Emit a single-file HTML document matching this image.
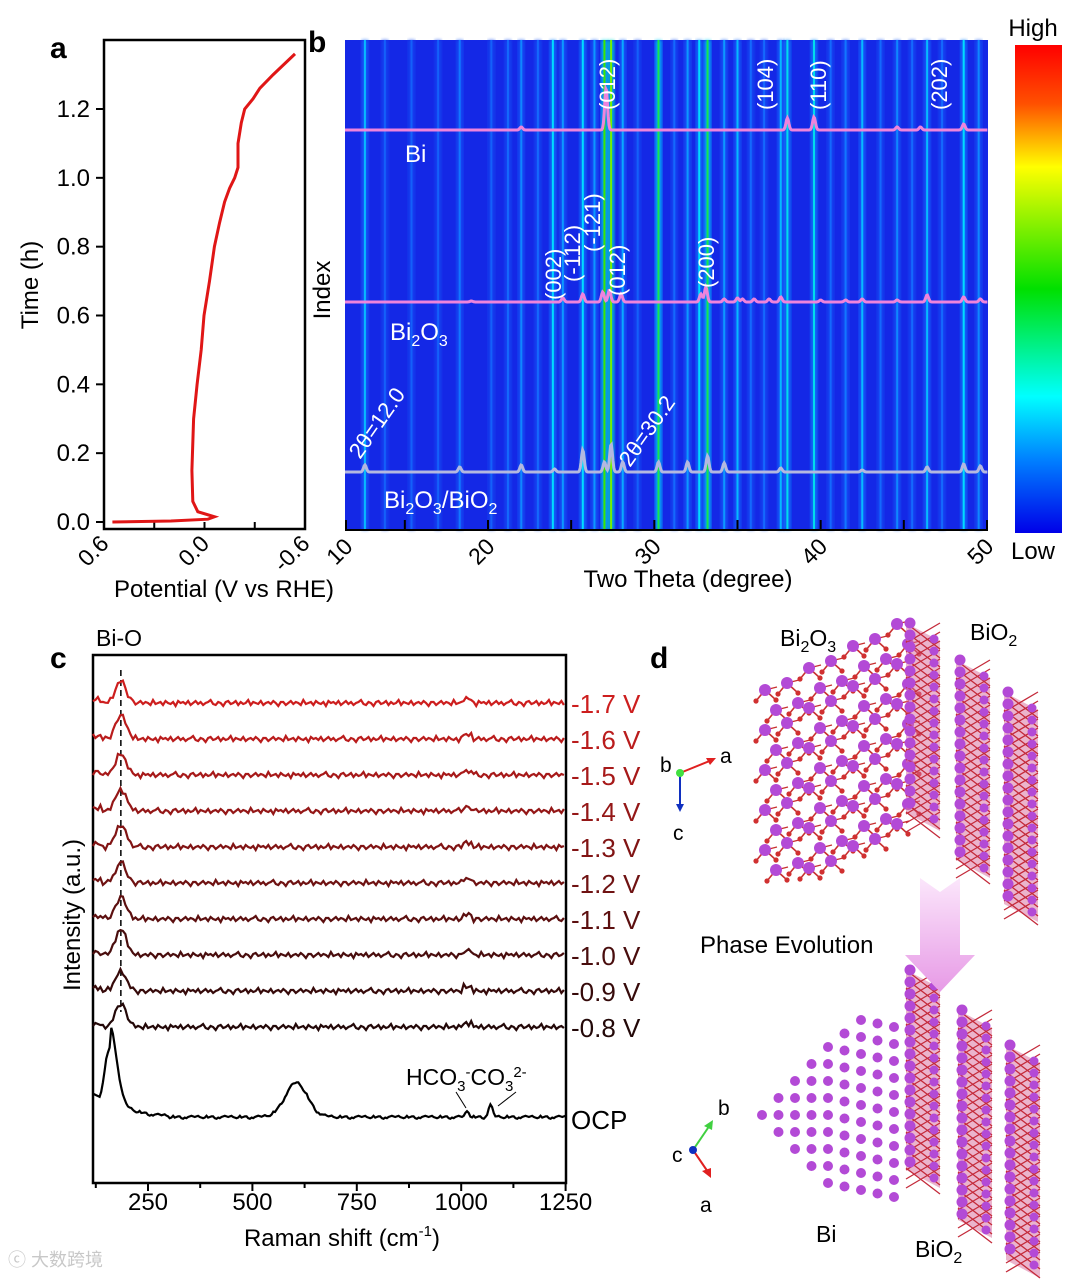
<!DOCTYPE html>
<html><head><meta charset="utf-8">
<style>
html,body{margin:0;padding:0;background:#fff;}
svg{display:block;font-family:"Liberation Sans","Noto Sans CJK SC",sans-serif;}
</style></head>
<body>
<svg id="fig" xmlns="http://www.w3.org/2000/svg" width="1080" height="1279" viewBox="0 0 1080 1279">
<defs>
<linearGradient id="cbar" x1="0" y1="0" x2="0" y2="1">
<stop offset="0" stop-color="#ff0000"/><stop offset="0.12" stop-color="#ff5000"/><stop offset="0.25" stop-color="#ffff00"/>
<stop offset="0.5" stop-color="#00e000"/><stop offset="0.72" stop-color="#00ffff"/><stop offset="0.85" stop-color="#0080ff"/><stop offset="1" stop-color="#0000e8"/>
</linearGradient>
<linearGradient id="arrowg" x1="0" y1="0" x2="0" y2="1">
<stop offset="0" stop-color="#fbe6fb"/><stop offset="1" stop-color="#e79ae6"/>
</linearGradient>
<filter id="blur1"><feGaussianBlur stdDeviation="1.5"/></filter>
</defs>

<g>
<text x="50" y="58" font-size="30" font-weight="bold">a</text>
<rect x="104" y="40" width="201" height="489" fill="none" stroke="#000" stroke-width="2.5"/>
<g id="aTicks"></g>
<g id="aXTicks"></g>
<path id="aCurve" fill="none" stroke="#e01616" stroke-width="3"/>
<text x="0" y="0" transform="translate(38,285) rotate(-90)" text-anchor="middle" font-size="24">Time (h)</text>
<text x="224" y="597" text-anchor="middle" font-size="24">Potential (V vs RHE)</text>
</g>

<g>
<text x="308" y="52" font-size="30" font-weight="bold">b</text>
<rect x="345" y="40" width="643" height="490" fill="#1428e6"/>
<g id="hmLines"></g>
<g id="xrdPatterns"></g>
<g id="bXTicks"></g>
<line x1="345" y1="530" x2="988" y2="530" stroke="#000" stroke-width="2"/>
<text transform="translate(330,290) rotate(-90)" text-anchor="middle" font-size="24">Index</text>
<text x="688" y="587" text-anchor="middle" font-size="24">Two Theta (degree)</text>
<g fill="#fff" font-size="22">
<text transform="translate(615,110) rotate(-90)">(012)</text>
<text transform="translate(773,110) rotate(-90)">(104)</text>
<text transform="translate(826,110) rotate(-90)">(110)</text>
<text transform="translate(947,110) rotate(-90)">(202)</text>
<text transform="translate(561,300) rotate(-90)">(002)</text>
<text transform="translate(580,282) rotate(-90)">(-112)</text>
<text transform="translate(600,252) rotate(-90)">(-121)</text>
<text transform="translate(625,296) rotate(-90)">(012)</text>
<text transform="translate(714,288) rotate(-90)">(200)</text>
<text transform="translate(360,460) rotate(-55)">2θ=12.0</text>
<text transform="translate(630,468) rotate(-55)">2θ=30.2</text>
</g>
<g fill="#fff" font-size="24">
<text x="405" y="162">Bi</text>
<text x="390" y="340">Bi<tspan font-size="16" dy="6">2</tspan><tspan dy="-6">O</tspan><tspan font-size="16" dy="6">3</tspan></text>
<text x="384" y="508">Bi<tspan font-size="16" dy="6">2</tspan><tspan dy="-6">O</tspan><tspan font-size="16" dy="6">3</tspan><tspan dy="-6">/BiO</tspan><tspan font-size="16" dy="6">2</tspan></text>
</g>
<rect x="1015" y="45" width="47" height="488" fill="url(#cbar)"/>
<text x="1033" y="36" text-anchor="middle" font-size="24">High</text>
<text x="1033" y="559" text-anchor="middle" font-size="24">Low</text>
</g>

<g>
<text x="50" y="668" font-size="30" font-weight="bold">c</text>
<text x="96" y="646" font-size="23">Bi-O</text>
<rect x="93" y="655" width="473" height="528" fill="none" stroke="#000" stroke-width="2.5"/>
<line id="biOLine" y1="670" y2="1012" stroke="#000" stroke-width="1.5" stroke-dasharray="6,4"/>
<g id="spectra"></g>
<g id="cXTicks"></g>
<text transform="translate(80,915) rotate(-90)" text-anchor="middle" font-size="24">Intensity (a.u.)</text>
<text x="342" y="1246" text-anchor="middle" font-size="24">Raman shift (cm<tspan font-size="15" dy="-10">-1</tspan><tspan dy="10">)</tspan></text>
<text x="406" y="1085" font-size="23">HCO<tspan font-size="15" dy="6">3</tspan><tspan font-size="15" dy="-14">-</tspan><tspan dy="8">CO</tspan><tspan font-size="15" dy="6">3</tspan><tspan font-size="15" dy="-14">2-</tspan></text>
<line x1="456" y1="1092" x2="466" y2="1108" stroke="#000" stroke-width="1"/>
<line x1="516" y1="1092" x2="498" y2="1106" stroke="#000" stroke-width="1"/>
</g>

<g>
<text x="650" y="668" font-size="30" font-weight="bold">d</text>
<g id="structures"></g>
<path d="M920,878 L940,892 L960,878 L960,955 L975,955 L940,992 L905,955 L920,955 Z" fill="url(#arrowg)"/>
<text x="700" y="953" font-size="24">Phase Evolution</text>
<text x="780" y="646" font-size="23">Bi<tspan font-size="16" dy="6">2</tspan><tspan dy="-6">O</tspan><tspan font-size="16" dy="6">3</tspan></text>
<text x="970" y="640" font-size="23">BiO<tspan font-size="16" dy="6">2</tspan></text>
<text x="816" y="1242" font-size="23">Bi</text>
<text x="915" y="1257" font-size="23">BiO<tspan font-size="16" dy="6">2</tspan></text>
<g>
<line x1="680" y1="773" x2="712" y2="760" stroke="#e02020" stroke-width="2"/><path d="M716,758 L706,758 L710,765 Z" fill="#e02020"/>
<line x1="680" y1="773" x2="680" y2="806" stroke="#1030c0" stroke-width="2"/><path d="M676,804 L684,804 L680,812 Z" fill="#1030c0"/>
<circle cx="680" cy="773" r="4" fill="#40e040"/>
<text x="660" y="772" font-size="21">b</text><text x="720" y="763" font-size="21">a</text><text x="673" y="840" font-size="21">c</text>
</g>
<g>
<line x1="693" y1="1150" x2="710" y2="1125" stroke="#40d040" stroke-width="2"/><path d="M713,1120 L704,1126 L712,1130 Z" fill="#40d040"/>
<line x1="693" y1="1150" x2="708" y2="1172" stroke="#e02020" stroke-width="2"/><path d="M711,1178 L702,1171 L711,1168 Z" fill="#e02020"/>
<circle cx="693" cy="1150" r="4" fill="#1030c0"/>
<text x="718" y="1115" font-size="21">b</text><text x="672" y="1162" font-size="21">c</text><text x="700" y="1212" font-size="21">a</text>
</g>
</g>
<text x="8" y="1266" font-size="18" fill="#c8c8c8">ⓒ 大数跨境</text>
</svg>

<script>
// ---------- Panel a data ----------
const aPotential = [0.55, 0.20, -0.02, -0.06, 0.04, 0.07, 0.075, 0.065, 0.044, 0.02, 0.003, -0.03, -0.059, -0.09, -0.12, -0.15, -0.18, -0.20, -0.20, -0.22, -0.24, -0.29, -0.33, -0.41, -0.54];
const aTime      = [0.00, 0.003, 0.008, 0.015, 0.03, 0.06, 0.15, 0.30, 0.40, 0.50, 0.60, 0.70, 0.80, 0.87, 0.93, 0.97, 1.00, 1.03, 1.10, 1.16, 1.20, 1.23, 1.26, 1.30, 1.36];
const aYTicks = ["0.0","0.2","0.4","0.6","0.8","1.0","1.2"];
const aXTicks = ["0.6","0.0","-0.6"];

// ---------- Panel b data ----------
const hmLinePos = [12.6,13.8,15.4,17.0,18.3,20.2,21.2,22.0,23.0,23.9,24.5,25.7,26.4,27.0,27.4,28.1,29.0,30.25,31.2,32.0,32.7,33.2,34.2,35.0,35.8,36.6,37.6,38.0,39.6,40.6,41.5,42.5,43.6,44.6,45.5,46.4,47.3,48.6,49.5];
const hmLineInt = [0.24,0.12,0.12,0.12,0.16,0.12,0.14,0.18,0.14,0.28,0.2,0.28,0.2,0.5,0.55,0.22,0.12,0.45,0.14,0.2,0.28,0.45,0.2,0.24,0.14,0.14,0.24,0.3,0.3,0.14,0.16,0.24,0.14,0.18,0.14,0.24,0.14,0.28,0.18];
const biPeakPos = [22.0, 27.1, 38.0, 39.6, 44.6, 46.0, 48.6];
const biPeakH   = [3, 42, 12, 13, 3, 3, 6];
const bi2o3PeakPos = [19.0, 24.5, 25.7, 26.9, 27.3, 28.0, 32.8, 33.1, 34.2, 35.0, 35.3, 36.0, 36.9, 37.6, 40.0, 41.5, 42.5, 44.6, 46.4, 48.6, 49.6];
const bi2o3PeakH   = [1, 4, 8, 10, 12, 8, 8, 15, 3, 4, 3, 3, 3, 5, 2, 2, 3, 2, 7, 5, 3];
const mixPeakPos = [12.6, 18.3, 22.0, 24.0, 25.7, 27.0, 27.4, 28.1, 30.25, 32.0, 33.2, 34.2, 37.6, 42.5, 46.4, 48.6, 49.6];
const mixPeakH   = [7, 5, 7, 3, 22, 10, 28, 10, 10, 10, 16, 9, 4, 2, 5, 8, 6];
const bXTicks = ["20","30","40","50"];

// ---------- Panel c data ----------
const voltLabels = ["-1.7 V","-1.6 V","-1.5 V","-1.4 V","-1.3 V","-1.2 V","-1.1 V","-1.0 V","-0.9 V","-0.8 V"];
const biOPeakH = [22, 24, 21, 22, 22, 20, 22, 26, 20, 24];
const wiggle = [0,2,-1,1,-2,0,1,3,-1,-2,1,0,-3,1,2,-1,0,2,-2,1,-1,0,3,-2,1,0,-1,2,-2,0,1,-1,2,0,-3,1,1,-2,0,2,-1,1,0,-2,3,-1,0,1,-2,2,0,-1,1,-3,2,0,1,-1,2,-2];
const ocpPeakPos = [160, 605, 1015, 1070];
const ocpPeakH   = [70, 34, 6, 12];
const ocpPeakW   = [22, 38, 6, 7];
const cXTicks = ["250","500","750","1000","1250"];

const NS = "http://www.w3.org/2000/svg";
function mk(tag, attrs, parent){ const e=document.createElementNS(NS,tag); for(const k in attrs) e.setAttribute(k,attrs[k]); parent.appendChild(e); return e; }

const xa = v => 104 + (0.6 - v) / 1.2 * 201;
const ya = t => 522 - t / 1.2 * 413;
(function(){
  let d = "";
  aPotential.forEach((v,i)=>{ d += (i?"L":"M") + xa(v).toFixed(1) + "," + ya(aTime[i]).toFixed(1); });
  document.getElementById("aCurve").setAttribute("d", d);
  const g = document.getElementById("aTicks");
  aYTicks.forEach(s=>{
    const y = ya(parseFloat(s));
    const l = mk("line",{x1:96,x2:104,y1:y,y2:y,stroke:"#000","stroke-width":2},g);
    
    
    const t = mk("text",{x:90,y:y+8,"text-anchor":"end","font-size":24},g);
    t.textContent = s;
    
    
  });
  const gx = document.getElementById("aXTicks");
  [0.6,0.3,0.0,-0.3,-0.6].forEach(v=>{
    const x = xa(v);
    const l = mk("line",{x1:x,x2:x,y1:529,y2:522,stroke:"#000","stroke-width":2},gx);
    
    
  });
  aXTicks.forEach(s=>{
    const x = xa(parseFloat(s));
    const t = mk("text",{transform:`translate(${x+6},${545}) rotate(-45)`,"text-anchor":"end","font-size":23},gx);
    t.textContent = s;
    
    
  });
})();

// Panel b: axis 20 deg at x=488, 50 deg at x=987
const xb = d => 488 + (d - 20) * 16.633;
function jet(v){
  const stops=[[0,[20,40,230]],[0.15,[20,110,255]],[0.28,[0,220,255]],[0.42,[0,230,120]],[0.5,[60,230,0]],[0.62,[200,255,0]],[0.75,[255,255,0]],[0.88,[255,80,0]],[1,[255,0,0]]];
  for(let i=1;i<stops.length;i++){ if(v<=stops[i][0]){ const a=stops[i-1],b=stops[i]; const f=(v-a[0])/(b[0]-a[0]); return `rgb(${a[1].map((c,j)=>Math.round(c+(b[1][j]-c)*f)).join(",")})`; } }
  return "rgb(255,0,0)";
}
(function(){
  const g = document.getElementById("hmLines");
  hmLinePos.forEach((p,i)=>{
    const x = xb(p), v = hmLineInt[i];
    if (x < 345 || x > 988) return;
    const glow = mk("rect",{x:x-3.5,y:40,width:7,height:490,fill:jet(v*0.6),opacity:0.7,filter:"url(#blur1)"},g);
    
    
    const r = mk("rect",{x:x-1,y:40,width:2,height:490,fill:jet(v)},g);
    
    
  });
  const gp = document.getElementById("xrdPatterns");
  function pattern(pos, h, base, color, name){
    let d="";
    for(let x=345;x<=988;x+=0.8){
      const t = 20 + (x-488)/16.633;
      let y=0; pos.forEach((p,i)=>{ y += h[i]*Math.exp(-Math.pow((t-p)/0.12,2)); });
      d += (d?"L":"M") + x.toFixed(1) + "," + (base - y).toFixed(1);
    }
    const path = mk("path",{d:d,fill:"none",stroke:color,"stroke-width":3},gp);
    
    
  }
  pattern(biPeakPos, biPeakH, 130, "#ee84dc", "xrd-bi-pattern");
  pattern(bi2o3PeakPos, bi2o3PeakH, 302, "#ee84dc", "xrd-bi2o3-pattern");
  pattern(mixPeakPos, mixPeakH, 472, "#b4b8e0", "xrd-bi2o3-bio2-pattern");
  const gx = document.getElementById("bXTicks");
  const l0 = mk("line",{x1:346,x2:346,y1:530,y2:520,stroke:"#000","stroke-width":2},gx);
  
  
  const t0 = mk("text",{transform:`translate(354,548) rotate(-45)`,"text-anchor":"end","font-size":23},gx);
  t0.textContent = "10";
  
  
  for(let d=15; d<=50; d+=5){
    const x = Math.min(xb(d), 987);
    const l = mk("line",{x1:x,x2:x,y1:530,y2:520,stroke:"#000","stroke-width":2},gx);
    
    
  }
  bXTicks.forEach(s=>{
    const x = xb(parseFloat(s));
    const t = mk("text",{transform:`translate(${x+8},${548}) rotate(-45)`,"text-anchor":"end","font-size":23},gx);
    t.textContent = s;
    
    
  });
})();

const xc = r => 148 + (r - 250) * 0.4176;
(function(){
  const g = document.getElementById("spectra");
  const biOx = xc(185);
  document.getElementById("biOLine").setAttribute("x1", biOx);
  document.getElementById("biOLine").setAttribute("x2", biOx);
  voltLabels.forEach((lab,i)=>{
    const base = 703 + i*36;
    const f = i/9;
    const col = `rgb(${Math.round(205-170*f)},${Math.round(30-22*f)},${Math.round(30-22*f)})`;
    let d="";
    for(let r=118; r<=1250; r+=6){
      const k = Math.round(r/6);
      let y = wiggle[(k + i*7) % wiggle.length]*1.0 + biOPeakH[i]*Math.exp(-Math.pow((r-185)/18,2));
      if(r<140) y += 3;
      if(r>1000 && r<1030) y += 4;
      d += (d?"L":"M") + xc(r).toFixed(1) + "," + (base - y).toFixed(1);
    }
    const p = mk("path",{d:d,fill:"none",stroke:col,"stroke-width":2.2},g);
    
    
    const t = mk("text",{x:571,y:base+10,"font-size":26,fill:col},g);
    t.textContent = lab;
    
    
  });
  let d="";
  const base = 1117;
  for(let r=118; r<=1250; r+=4){
    const k = Math.round(r/4);
    let y = wiggle[(k*3) % wiggle.length]*0.6;
    ocpPeakPos.forEach((p,j)=>{ y += ocpPeakH[j]*Math.exp(-Math.pow((r-p)/ocpPeakW[j],2)); });
    if(r < 160) y = Math.max(y, 15 + (160-r)*0.2);
    if(r >= 160 && r < 300) y += 20*Math.exp(-(r-160)/50);
    d += (d?"L":"M") + xc(r).toFixed(1) + "," + (base - y).toFixed(1);
  }
  const p = mk("path",{d:d,fill:"none",stroke:"#000","stroke-width":2.2},g);
  
  
  const t = mk("text",{x:571,y:base+12,"font-size":26},g);
  t.textContent = "OCP";
  
  
  const gx = document.getElementById("cXTicks");
  for(let r=125; r<=1250; r+=125){
    const x = xc(r);
    const major = (r % 250 === 0);
    const l = mk("line",{x1:x,x2:x,y1:1183,y2:major?1191:1188,stroke:"#000","stroke-width":2},gx);
    
    
  }
  cXTicks.forEach(s=>{
    const t = mk("text",{x:xc(parseFloat(s)),y:1210,"text-anchor":"middle","font-size":24},gx);
    t.textContent = s;
    
    
  });
})();

(function(){
  const g = document.getElementById("structures");
  const bg = mk("g",{},g);
  
  
  for(let r=0;r<11;r++){
    for(let c=0;c<7;c++){
      const x = 765 + c*22 + (r%2)*11;
      const top = 690 - c*11;
      const y = top + r*20 + (c%2)*4;
      if(y > 875 - c*2) continue;
      mk("line",{x1:x,y1:y,x2:x+11,y2:y+10,stroke:"#c83030","stroke-width":1.6},bg);
      mk("line",{x1:x,y1:y,x2:x-9,y2:y+11,stroke:"#c83030","stroke-width":1.6},bg);
      mk("line",{x1:x,y1:y,x2:x+12,y2:y-3,stroke:"#c83030","stroke-width":1.4},bg);
      mk("circle",{cx:x+11,cy:y+10,r:2.6,fill:"#d03030"},bg);
      mk("circle",{cx:x-9,cy:y+11,r:2.6,fill:"#d03030"},bg);
      mk("circle",{cx:x,cy:y,r:6,fill:"#b34ad6"},bg);
    }
  }
  function slab(x0,y0,h,name){
    const sg = mk("g",{},g);
    
    
    const w=34;
    mk("path",{d:`M${x0},${y0} L${x0+w},${y0+18} L${x0+w},${y0+h+18} L${x0},${y0+h} Z`,fill:"#d86a9a",opacity:0.5},sg);
    for(let k=0;k<h;k+=9){
      mk("line",{x1:x0,y1:y0+k,x2:x0+w,y2:y0+k+26,stroke:"#c42a3a","stroke-width":1.3},sg);
      mk("line",{x1:x0,y1:y0+k+20,x2:x0+w,y2:y0+k,stroke:"#c42a3a","stroke-width":1.3},sg);
    }
    for(let k=0;k<=h;k+=12){
      mk("circle",{cx:x0+4,cy:y0+k,r:5.5,fill:"#b34ad6"},sg);
      mk("circle",{cx:x0+w-6,cy:y0+k+16,r:4.5,fill:"#b34ad6"},sg);
    }
  }
  slab(906,623,190,"bio2-slab-top-1");
  slab(956,660,200,"bio2-slab-top-2");
  slab(1004,692,212,"bio2-slab-top-3");
  slab(906,970,200,"bio2-slab-bottom-1");
  slab(958,1010,210,"bio2-slab-bottom-2");
  slab(1006,1045,215,"bio2-slab-bottom-3");
  const bi = mk("g",{},g);
  
  
  for(let c=0;c<9;c++){
    const x = 762 + c*16.5;
    const half = c<5 ? c : 4 + (c-4)*0.5;
    const cy = 1115 - (c>4 ? (c-4)*5 : 0);
    for(let r=-half; r<=half; r+=1){
      const y = cy + r*17;
      if(y<1012 || y>1200) continue;
      mk("circle",{cx:x,cy:y,r:5,fill:"#b34ad6"},bi);
    }
  }
})();
</script>
</body></html>
